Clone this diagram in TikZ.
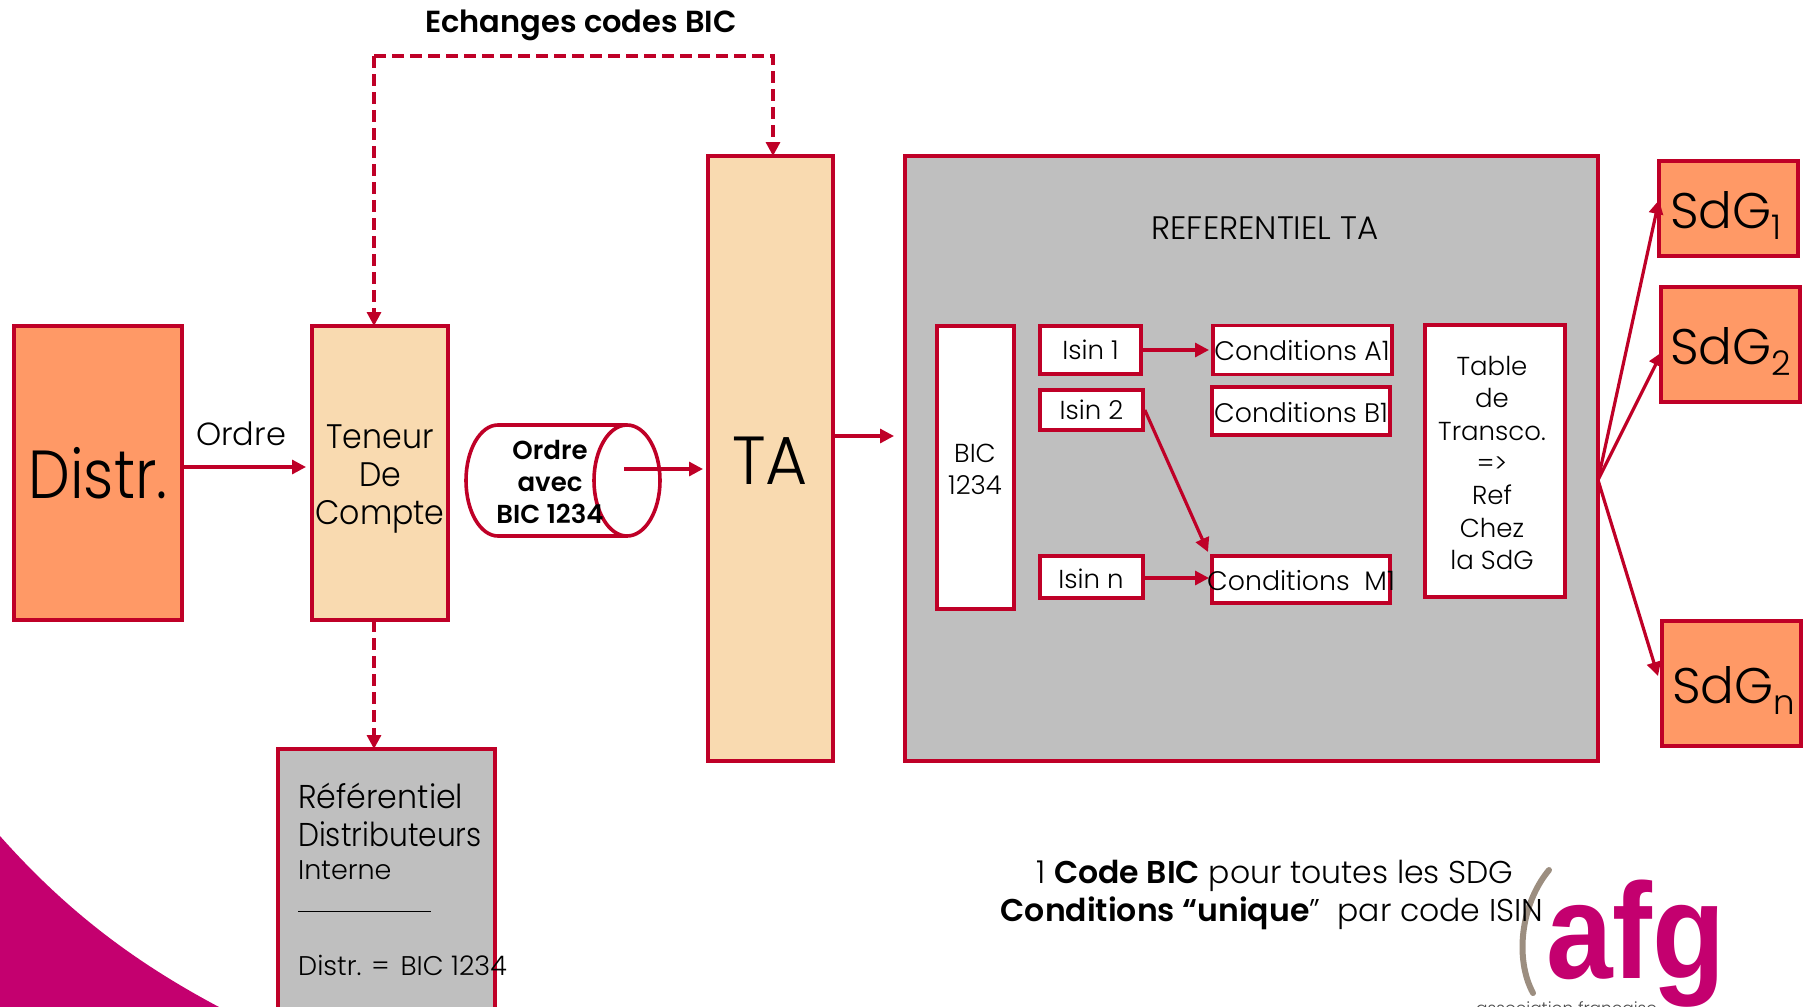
\documentclass[tikz,border=0pt]{standalone}
\usepackage{fontspec}
\usepackage{graphicx}
\setmainfont{Poppins Light}[BoldFont={Poppins SemiBold}]
\newfontfamily\logofont{Liberation Sans}
\usetikzlibrary{arrows.meta,calc}
\definecolor{rd}{HTML}{BF0027}
\definecolor{org}{HTML}{FF9966}
\definecolor{crm}{HTML}{F9DAB0}
\definecolor{gry}{HTML}{BFBFBF}
\definecolor{mag}{HTML}{C4006F}
\definecolor{brn}{HTML}{9C8E80}
\newcommand{\subsc}[1]{\raisebox{-11pt}{\fontsize{34}{34}\selectfont #1}}
\newcommand{\hs}[2]{\scalebox{#1}[1]{#2}}
\tikzset{
  box/.style={draw=rd,line width=3.6pt,rectangle,inner sep=0pt,align=center,text=black},
  wbox/.style={box,fill=white,font=\fontsize{26}{32}\selectfont},
  obox/.style={box,fill=org},
  cbox/.style={box,fill=crm},
  gbox/.style={box,fill=gry},
  lbl/.style={inner sep=0pt,align=center,text=black},
  arr/.style={draw=rd,line width=3.2pt,-{Triangle[length=14pt,width=14pt]}},
  dsh/.style={arr,dash pattern=on 12pt off 6pt},
}
\begin{document}
\begin{tikzpicture}[x=1pt,y=-1pt]
\useasboundingbox (0,0) rectangle (1808,1007);
\clip (0,0) rectangle (1808,1007);
% pink wedge
\fill[mag] (0,836) .. controls (70,915) and (140,965) .. (219,1007) -- (0,1007) -- cycle;
% logo
\draw[brn,line width=6pt,line cap=round] (1549,870) .. controls (1520,905) and (1515,960) .. (1533,993);
\node[lbl,anchor=base west,text=black!70,font=\fontsize{17}{17}\selectfont] (logosub) at (1476,1014) {association française};
\node[lbl,anchor=base west,text=mag,font=\logofont\bfseries\fontsize{136}{136}\selectfont] (logo) at (1546,978) {\hs{.88}{afg}};
% main boxes
\node[obox,minimum width=168pt,minimum height=294pt,font=\fontsize{68}{68}\selectfont] (distr) at (98,473) {\hs{.87}{Distr.}};
\node[cbox,minimum width=136pt,minimum height=294pt] (ten) at (380,473) {};
\node[lbl,font=\fontsize{34}{38}\selectfont] (tenlbl) at (380,479) {\hs{.93}{Teneur}\\\hs{.93}{De}\\\hs{.93}{Compte}};
\node[gbox,minimum width=217pt,minimum height=262pt] (refd) at (386.5,880) {};
\node[cbox,minimum width=125pt,minimum height=605pt] (ta) at (770.5,458.5) {};
\node[lbl,font=\fontsize{68}{68}\selectfont] (talbl) at (770,461) {\hs{.95}{TA}};
\node[gbox,minimum width=693pt,minimum height=605pt] (ref) at (1251.5,458.5) {};
\node[lbl,font=\fontsize{32.5}{36}\selectfont] (reflbl) at (1265,228) {REFERENTIEL TA};
% ref distr text
\node[lbl,anchor=base west,font=\fontsize{33}{33}\selectfont] (rd1) at (298,808) {\hs{.96}{Référentiel}};
\node[lbl,anchor=base west,font=\fontsize{33}{33}\selectfont] (rd2) at (298,846) {\hs{.9}{Distributeurs}};
\node[lbl,anchor=base west,font=\fontsize{27}{27}\selectfont] (rd3) at (298,879) {Interne};
\node[lbl,anchor=base west,font=\fontsize{27}{27}\selectfont] (rd4) at (298,912) {\rule{133pt}{1.2pt}};
\node[lbl,anchor=base west,font=\fontsize{27}{27}\selectfont] (rd5) at (298,975) {Distr. =\hspace{11pt}BIC 1234};
% inner boxes
\node[wbox,minimum width=77pt,minimum height=283pt] (bic) at (975.5,467.5) {};
\node[lbl,font=\fontsize{26}{32}\selectfont] (biclbl) at (975,469) {BIC\\1234};
\node[wbox,minimum width=101pt,minimum height=48pt] (i1) at (1090.5,350) {Isin 1};
\node[wbox,minimum width=103pt,minimum height=40pt] (i2) at (1091.5,410) {Isin 2};
\node[wbox,minimum width=103pt,minimum height=42pt] (in) at (1091.5,577) {};
\node[lbl,font=\fontsize{26}{32}\selectfont] (inlbl) at (1091,579) {Isin n};
\node[wbox,minimum width=179pt,minimum height=49pt] (ca) at (1302.5,350) {};
\node[wbox,minimum width=178pt,minimum height=48pt] (cb) at (1301,411) {};
\node[wbox,minimum width=178pt,minimum height=47pt] (cm) at (1301,579.5) {};
\node[lbl,font=\fontsize{26.8}{30}\selectfont] (calbl) at (1302,351) {Conditions A1};
\node[lbl,font=\fontsize{26.8}{30}\selectfont] (cblbl) at (1301,413) {Conditions B1};
\node[lbl,font=\fontsize{26.8}{30}\selectfont] (cmlbl) at (1301,581) {Conditions\ \ M1};
\node[wbox,minimum width=140pt,minimum height=272pt] (tab) at (1495,461) {};
\node[lbl,font=\fontsize{26}{32.3}\selectfont] (tablbl) at (1492,463) {Table\\de\\Transco.\\=>\\Ref\\Chez\\la SdG};
% SdG
\node[obox,minimum width=139pt,minimum height=95pt] (s1) at (1728.5,208.5) {};
\node[obox,minimum width=139pt,minimum height=115pt] (s2) at (1730.5,344.5) {};
\node[obox,minimum width=139pt,minimum height=125pt] (sn) at (1731.5,683.5) {};
\node[lbl,anchor=base west,font=\fontsize{50}{50}\selectfont] (s1l) at (1670,228) {SdG\subsc{1}};
\node[lbl,anchor=base west,font=\fontsize{50}{50}\selectfont] (s2l) at (1670,364) {SdG\subsc{2}};
\node[lbl,anchor=base west,font=\fontsize{50}{50}\selectfont] (snl) at (1672,703) {SdG\subsc{n}};
% cylinder
\draw[rd,line width=3.6pt,fill=white] (627,425) -- (498,425) arc[start angle=270,end angle=90,x radius=32,y radius=55.5] -- (627,536);
\draw[rd,line width=3.6pt] (627,480.5) ellipse[x radius=33,y radius=55.5];
\node[lbl,font=\bfseries\fontsize{26}{32}\selectfont] (cyllbl) at (550,482) {Ordre\\avec\\BIC 1234};
% labels
\node[lbl,font=\bfseries\fontsize{30.5}{30}\selectfont] (title) at (581,25) {Echanges codes BIC};
\node[lbl,font=\fontsize{32}{32}\selectfont] (ordre) at (241,434) {Ordre};
\node[lbl,font=\fontsize{31.5}{38}\selectfont] (n1) at (1275,875.5) {1 \textbf{Code BIC} pour toutes les SDG};
\node[lbl,font=\fontsize{31.5}{38}\selectfont] (n2) at (1272,913.5) {\textbf{Conditions “unique}”\ \ par code ISIN};
% coordinates
\coordinate (tenup) at (374,326);
\coordinate (taup) at (773,156);
\coordinate (tend) at (374,620);
\coordinate (refdt) at (374,749);
\coordinate (fan) at (1598,480);
\coordinate (dtop) at (374,56);
\coordinate (cylout) at (624,469);
\coordinate (tenin) at (306,467);
\coordinate (tain) at (703,469);
\coordinate (refin) at (894,436);
\coordinate (caend) at (1209,350);
\coordinate (cmend) at (1208,552);
\coordinate (cmend2) at (1209,578);
\coordinate (s1end) at (1659,200);
\coordinate (s2end) at (1662,352);
\coordinate (snend) at (1658,676);
% connectors
\draw[arr] (distr.east |- tenin) -- (tenin);
\draw[arr] (cylout) -- (tain);
\draw[arr] (ta.east |- refin) -- (refin);
\draw[dsh] (dtop) -| (taup);
\draw[dsh] (dtop) -- (tenup);
\draw[dsh] (tend) -- (refdt);
\draw[arr] (i1.east) -- (caend);
\draw[arr] (i2.east) -- (cmend);
\draw[arr] (in.east |- cmend2) -- (cmend2);
\draw[arr] (fan) -- (s1end);
\draw[arr] (fan) -- (s2end);
\draw[arr] (fan) -- (snend);
\end{tikzpicture}
\end{document}
